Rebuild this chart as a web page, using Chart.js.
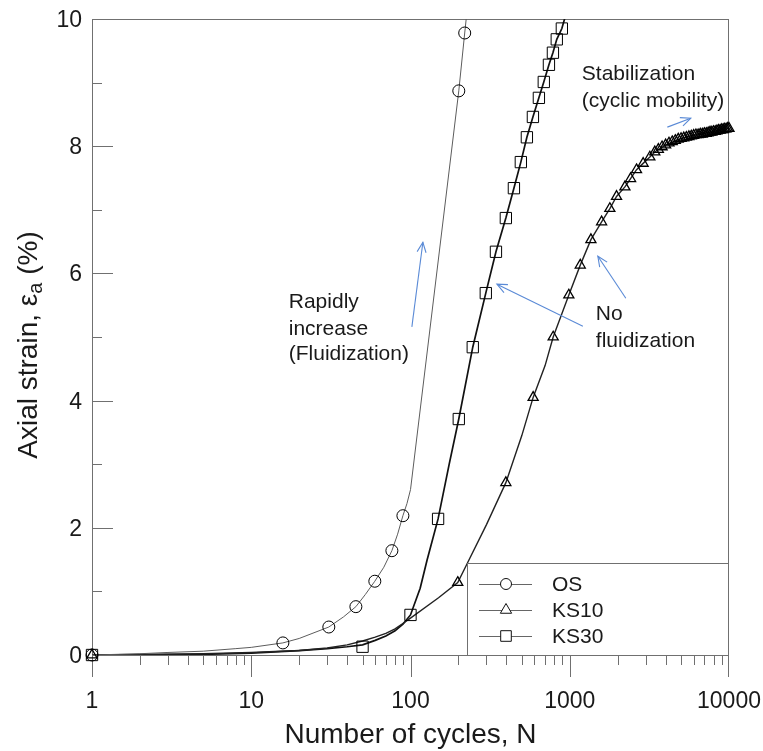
<!DOCTYPE html>
<html lang="en">
  <head>
    <meta charset="UTF-8" />
    <title>Axial strain vs number of cycles</title>
    <script src="https://cdn.jsdelivr.net/npm/chart.js"></script>
    <style>
      body { margin: 0; background: #fff; }
    </style>
  </head>
  <body>
    <canvas id="strainChart" width="763" height="751"></canvas>

    <script>
      // OS
      const osN = [1, 2, 3, 5, 8, 10, 15.8, 20, 30.7, 38, 45.4, 52, 59.7, 68, 76.4, 83, 89.6, 95, 100, 201, 219, 235];
      const osStrain = [0, 0.02, 0.04, 0.06, 0.1, 0.12, 0.19, 0.26, 0.44, 0.6, 0.76, 0.95, 1.16, 1.38, 1.64, 1.9, 2.19, 2.38, 2.6, 8.87, 9.78, 10.5];
      const osMarkN = [1, 15.8, 30.7, 45.4, 59.7, 76.4, 89.6, 201, 219];
      const osMarkStrain = [0, 0.19, 0.44, 0.76, 1.16, 1.64, 2.19, 8.87, 9.78];

      // KS10
      const ks10N = [1, 2, 5, 10, 20, 30, 40, 50, 60, 70, 80, 90, 100, 150, 198, 225, 300, 397, 500, 589, 700, 787, 987, 1164, 1358, 1585, 1786, 1967, 2220, 2410, 2626, 2890, 3184, 3420, 4000, 5000, 6000, 7000, 8000, 9000, 10000];
      const ks10Strain = [0, 0.01, 0.02, 0.04, 0.07, 0.11, 0.16, 0.22, 0.28, 0.34, 0.41, 0.5, 0.58, 0.9, 1.14, 1.42, 2.05, 2.71, 3.45, 4.05, 4.55, 5.0, 5.66, 6.13, 6.53, 6.81, 7.02, 7.21, 7.36, 7.49, 7.63, 7.73, 7.83, 7.91, 8.02, 8.12, 8.17, 8.2, 8.23, 8.26, 8.28];
      const ks10MarkN = [1, 198, 397, 589, 787, 987, 1164, 1358, 1585, 1786, 1967, 2220, 2410, 2626, 2890, 3184, 3420,
        3600, 3800, 4000, 4200, 4400, 4600, 4800, 5000, 5200, 5400, 5600, 5800, 6000, 6200, 6400, 6600, 6800,
        7000, 7200, 7400, 7600, 7800, 8000, 8200, 8400, 8600, 8800, 9000, 9200, 9400, 9600, 9800, 10000];
      const ks10MarkStrain = [0, 1.14, 2.71, 4.05, 5.0, 5.66, 6.13, 6.53, 6.81, 7.02, 7.21, 7.36, 7.49, 7.63, 7.73, 7.83, 7.91,
        7.95, 7.99, 8.02, 8.05, 8.07, 8.09, 8.11, 8.12, 8.13, 8.14, 8.15, 8.16, 8.17, 8.18, 8.18, 8.19, 8.19,
        8.2, 8.2, 8.21, 8.22, 8.22, 8.23, 8.23, 8.24, 8.25, 8.25, 8.26, 8.26, 8.27, 8.27, 8.28, 8.28];

      // KS30
      const ks30N = [1, 5, 10, 20, 30, 40, 50, 60, 70, 80, 90, 100, 115, 127, 149, 175, 201, 246, 297, 344, 397, 446, 493, 538, 587, 640, 687, 740, 784, 829, 892, 940];
      const ks30Strain = [0, 0.01, 0.03, 0.07, 0.1, 0.13, 0.16, 0.23, 0.3, 0.38, 0.49, 0.63, 1.05, 1.49, 2.14, 3.0, 3.71, 4.84, 5.69, 6.34, 6.87, 7.34, 7.75, 8.14, 8.46, 8.76, 9.01, 9.28, 9.47, 9.68, 9.85, 10.05];
      const ks30MarkN = [1, 50, 100, 149, 201, 246, 297, 344, 397, 446, 493, 538, 587, 640, 687, 740, 784, 829, 892];
      const ks30MarkStrain = [0, 0.13, 0.63, 2.14, 3.71, 4.84, 5.69, 6.34, 6.87, 7.34, 7.75, 8.14, 8.46, 8.76, 9.01, 9.28, 9.47, 9.68, 9.85];

      const xTickLabels = [1, 10, 100, 1000, 10000];
      const yTickLabels = [0, 2, 4, 6, 8, 10];
      const seriesNames = ["OS", "KS10", "KS30"];

      const FONT = 'Arial, "Liberation Sans", sans-serif';
      const axisColor = "#707070";
      const textColor = "#1a1a1a";
      const arrowColor = "#5a8ad6";

      const pts = (xs, ys) => xs.map((v, i) => ({ x: v, y: ys[i] }));

      function lineSet(xs, ys, color, width) {
        return {
          data: pts(xs, ys),
          showLine: true,
          borderColor: color,
          borderWidth: width,
          pointRadius: 0,
          tension: 0,
        };
      }

      function markSet(xs, ys, style, radius, width) {
        return {
          data: pts(xs, ys),
          showLine: false,
          pointStyle: style,
          pointRadius: radius,
          pointBorderColor: "#000",
          pointBackgroundColor: "rgba(0,0,0,0)",
          pointBorderWidth: width,
          clip: false,
        };
      }

      function seg(ctx, x1, y1, x2, y2) {
        ctx.beginPath();
        ctx.moveTo(x1, y1);
        ctx.lineTo(x2, y2);
        ctx.stroke();
      }

      function arrow(ctx, x1, y1, x2, y2) {
        seg(ctx, x1, y1, x2, y2);
        const a = Math.atan2(y2 - y1, x2 - x1);
        const L = 11, w = 0.42;
        ctx.beginPath();
        ctx.moveTo(x2 - L * Math.cos(a - w), y2 - L * Math.sin(a - w));
        ctx.lineTo(x2, y2);
        ctx.lineTo(x2 - L * Math.cos(a + w), y2 - L * Math.sin(a + w));
        ctx.stroke();
      }

      // arrows and notes, in data coordinates (N, strain)
      const arrows = [
        [102, 5.16, 119.6, 6.49],
        [1209, 5.17, 349, 5.83],
        [2250, 5.61, 1501, 6.27],
        [4100, 8.3, 5756, 8.44],
      ];
      const notes = [
        ["Rapidly", 17.2, 5.46],
        ["increase", 17.2, 5.03],
        ["(Fluidization)", 17.2, 4.64],
        ["Stabilization", 1191, 9.04],
        ["(cyclic mobility)", 1191, 8.62],
        ["No", 1458, 5.27],
        ["fluidization", 1458, 4.84],
      ];

      const framePlugin = {
        id: "frame",
        beforeDatasetsDraw(chart) {
          const { ctx, chartArea: a, scales } = chart;
          const x = scales.x, y = scales.y;
          ctx.save();
          ctx.strokeStyle = axisColor;
          ctx.lineWidth = 1;
          ctx.strokeRect(a.left + 0.5, a.top + 0.5, a.right - a.left - 1, a.bottom - a.top);

          // x ticks (outward)
          xTickLabels.forEach((v, i) => {
            const px = Math.round(x.getPixelForValue(v)) + (i === xTickLabels.length - 1 ? -0.5 : 0.5);
            seg(ctx, px, a.bottom, px, a.bottom + 22);
            if (i < xTickLabels.length - 1) {
              for (let k = 2; k <= 9; k++) {
                const mx = Math.round(x.getPixelForValue(v * k)) + 0.5;
                seg(ctx, mx, a.bottom, mx, a.bottom + 10);
              }
            }
          });
          // y ticks (inward)
          for (let v = 0; v <= 10; v++) {
            const py = Math.round(y.getPixelForValue(v)) + 0.5;
            const len = v % 2 === 0 ? 21 : 10;
            seg(ctx, a.left, py, a.left + len, py);
          }
          ctx.restore();
        },
        afterDatasetsDraw(chart) {
          const { ctx, chartArea: a, scales } = chart;
          const x = scales.x, y = scales.y;
          ctx.save();
          ctx.fillStyle = textColor;

          // tick labels
          ctx.font = "23px " + FONT;
          ctx.textAlign = "center";
          ctx.textBaseline = "alphabetic";
          xTickLabels.forEach((v) => {
            ctx.fillText(String(v), x.getPixelForValue(v), a.bottom + 53);
          });
          ctx.textAlign = "right";
          yTickLabels.forEach((v) => {
            ctx.fillText(String(v), a.left - 10, y.getPixelForValue(v) + 8);
          });

          // axis titles
          ctx.font = "28px " + FONT;
          ctx.textAlign = "center";
          ctx.fillText("Number of cycles, N", (a.left + a.right) / 2, a.bottom + 88);

          ctx.save();
          ctx.translate(37, (a.top + a.bottom) / 2 + 8);
          ctx.rotate(-Math.PI / 2);
          ctx.textAlign = "left";
          const big = "28px " + FONT, small = "20px " + FONT;
          ctx.font = big;
          const t1 = "Axial strain, \u03b5", t3 = " (%)";
          const w1 = ctx.measureText(t1).width, w3 = ctx.measureText(t3).width;
          ctx.font = small;
          const w2 = ctx.measureText("a").width;
          const x0 = -(w1 + w2 + w3) / 2;
          ctx.font = big;
          ctx.fillText(t1, x0, 0);
          ctx.font = small;
          ctx.fillText("a", x0 + w1, 5);
          ctx.font = big;
          ctx.fillText(t3, x0 + w1 + w2, 0);
          ctx.restore();

          // notes and arrows
          ctx.font = "21px " + FONT;
          ctx.textAlign = "left";
          notes.forEach(([t, n, s]) => ctx.fillText(t, x.getPixelForValue(n), y.getPixelForValue(s)));
          ctx.strokeStyle = arrowColor;
          ctx.lineWidth = 1.1;
          arrows.forEach(([n1, s1, n2, s2]) =>
            arrow(ctx, x.getPixelForValue(n1), y.getPixelForValue(s1), x.getPixelForValue(n2), y.getPixelForValue(s2))
          );

          // legend box
          const bx = a.right - 262, by = a.bottom - 92;
          ctx.fillStyle = "#fff";
          ctx.fillRect(bx, by, 262, 92);
          ctx.strokeStyle = axisColor;
          ctx.lineWidth = 1;
          ctx.strokeRect(bx + 0.5, by + 0.5, 261, 92);
          const styles = [["circle", 5.5], ["triangle", 6.5], ["rect", 7.5]];
          ctx.font = "21px " + FONT;
          ctx.textBaseline = "middle";
          seriesNames.forEach((name, i) => {
            const ly = by + 21 + i * 26;
            ctx.strokeStyle = "#666";
            seg(ctx, bx + 12, ly + 0.5, bx + 65, ly + 0.5);
            ctx.fillStyle = "#fff";
            ctx.strokeStyle = "#111";
            Chart.helpers.drawPoint(ctx, { pointStyle: styles[i][0], radius: styles[i][1], rotation: 0, borderWidth: 1 }, bx + 39, ly);
            ctx.fillStyle = textColor;
            ctx.fillText(name, bx + 85, ly + 1);
          });
          ctx.restore();
        },
      };

      new Chart(document.getElementById("strainChart"), {
        type: "scatter",
        data: {
          datasets: [
            markSet(osMarkN, osMarkStrain, "circle", 6, 1),
            markSet(ks10MarkN, ks10MarkStrain, "triangle", 5.8, 1.3),
            markSet(ks30MarkN, ks30MarkStrain, "rect", 8, 1),
            lineSet(osN, osStrain, "#5c5c5c", 1),
            lineSet(ks10N, ks10Strain, "#222", 1.4),
            lineSet(ks30N, ks30Strain, "#111", 1.7),
          ],
        },
        options: {
          responsive: false,
          animation: false,
          layout: { padding: { left: 92, right: 34, top: 19, bottom: 96 } },
          scales: {
            x: { type: "logarithmic", min: 1, max: 10000, display: false },
            y: { min: 0, max: 10, display: false },
          },
          plugins: { legend: { display: false }, tooltip: { enabled: false } },
        },
        plugins: [framePlugin],
      });
    </script>
  </body>
</html>
